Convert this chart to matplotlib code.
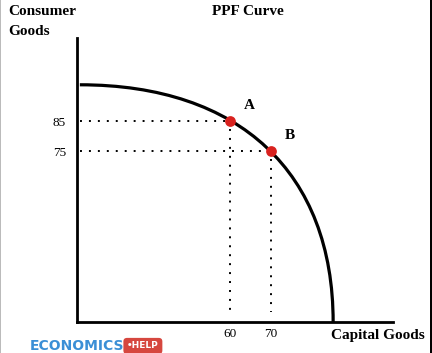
import matplotlib
matplotlib.use("Agg")
import matplotlib.pyplot as plt
from matplotlib.patches import Rectangle, PathPatch
from matplotlib.path import Path

# =========================
# Data
# =========================
# PPF drawn as one smooth cubic: start on the y axis, end on the x axis,
# two control points giving the bow-out shape
curve_x = [23.1, 62.4, 85.3, 85.3]
curve_y = [97.1, 97.1, 67.8, 18.0]

point_labels = ["A", "B"]
point_x = [60, 70]
point_y = [85, 75]

x_ticks = [60, 70]
y_ticks = [85, 75]

X_MIN, X_MAX = 22.4, 100.0
Y_MIN, Y_MAX = 18.0, 112.7

SERIF = ["Liberation Serif", "DejaVu Serif"]

# =========================
# Figure
# =========================
fig = plt.figure(figsize=(4.32, 3.53), dpi=100)
ax = fig.add_axes([77 / 432, 1 - 322 / 353, (393 - 77) / 432, (322 - 38) / 353])
ax.set_xlim(X_MIN, X_MAX)
ax.set_ylim(Y_MIN, Y_MAX)

for s in ["top", "right"]:
    ax.spines[s].set_visible(False)
for s in ["left", "bottom"]:
    ax.spines[s].set_linewidth(2.0)
    ax.spines[s].set_color("black")

# PPF curve
ppf = Path(list(zip(curve_x, curve_y)),
           [Path.MOVETO, Path.CURVE4, Path.CURVE4, Path.CURVE4])
ax.add_patch(PathPatch(ppf, facecolor="none", edgecolor="black", linewidth=2.3,
                       capstyle="butt", zorder=3))

# dotted guides
for px, py in zip(point_x, point_y):
    ax.plot([23.1, px], [py, py], color="black", linewidth=1.4,
            linestyle=(0, (1, 3.6)), zorder=2)
    ax.plot([px, px], [py - 2.5, 21.5], color="black", linewidth=1.4,
            linestyle=(0, (1, 3.6)), zorder=2)

# points
ax.scatter(point_x, point_y, s=60, color="#d9221f", zorder=4, linewidths=0)
for lab, px, py in zip(point_labels, point_x, point_y):
    ax.annotate(lab, (px, py), xytext=(10, 9), textcoords="offset points",
                fontsize=11, fontweight="bold", family=SERIF, ha="left", va="baseline")

# ticks
ax.set_xticks(x_ticks)
ax.set_yticks(y_ticks)
ax.set_xticklabels([str(v) for v in x_ticks], family=SERIF, fontsize=9.5)
ax.set_yticklabels([str(v) for v in y_ticks], family=SERIF, fontsize=9.5)
ax.tick_params(axis="both", length=0)
ax.tick_params(axis="x", pad=4)
ax.tick_params(axis="y", pad=8)

# =========================
# Labels
# =========================
fig.text(8 / 432, 1 - 15 / 353, "Consumer", family=SERIF, fontsize=11,
         fontweight="bold", ha="left", va="baseline")
fig.text(8 / 432, 1 - 35 / 353, "Goods", family=SERIF, fontsize=11,
         fontweight="bold", ha="left", va="baseline")
fig.text(212 / 432, 1 - 15 / 353, "PPF Curve", family=SERIF, fontsize=11,
         fontweight="bold", ha="left", va="baseline")
fig.text(331 / 432, 1 - 339 / 353, "Capital Goods", family=SERIF, fontsize=11,
         fontweight="bold", ha="left", va="baseline")

# logo
fig.text(30 / 432, 1 - 350.5 / 353, "ECONOMICS", family="DejaVu Sans", fontsize=10,
         fontweight="heavy", color="#3b8fd6", ha="left", va="baseline")
fig.text(127 / 432, 1 - 348.5 / 353, "\u2022HELP", family="DejaVu Sans", fontsize=6.5,
         fontweight="bold", color="white", ha="left", va="baseline",
         bbox=dict(boxstyle="round,pad=0.4", fc="#d6473f", ec="none"))

# frame edges
fig.patches.append(Rectangle((430 / 432, 0), 2 / 432, 1, transform=fig.transFigure,
                             facecolor="black", edgecolor="none"))
fig.patches.append(Rectangle((0, 0), 1 / 432, 1, transform=fig.transFigure,
                             facecolor="#bbbbbb", edgecolor="none"))

fig.savefig("out.png", dpi=100)
